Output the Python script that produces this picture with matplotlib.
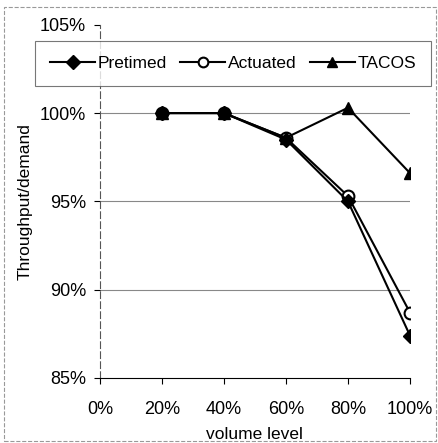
import matplotlib
matplotlib.use("Agg")
from matplotlib import pyplot as plt
from matplotlib.patches import Rectangle

plt.rcParams['font.family'] = ['Liberation Sans', 'DejaVu Sans']

volume = [20, 40, 60, 80, 100]
pretimed = [100.0, 100.0, 98.5, 95.0, 87.4]
actuated = [100.0, 100.0, 98.6, 95.3, 88.7]
tacos = [100.0, 100.0, 98.6, 100.3, 96.6]
xticks = [0, 20, 40, 60, 80, 100]
yticks = [85, 90, 95, 100, 105]

fig = plt.figure(figsize=(4.38, 4.43), dpi=100)
ax = fig.add_axes([0.228, 0.147, 0.708, 0.797])

for y in [90, 95, 100]:
    ax.axhline(y, color='#888888', lw=0.8, zorder=1)

l1, = ax.plot(volume, pretimed, color='black', lw=1.5, marker='D', ms=7,
              mfc='black', mec='black', label='Pretimed', zorder=3)
l2, = ax.plot(volume, actuated, color='black', lw=1.5, marker='o', ms=8.5,
              mfc='white', mec='black', mew=1.5, label='Actuated', zorder=2)
l3, = ax.plot(volume, tacos, color='black', lw=1.5, marker='^', ms=9,
              mfc='black', mec='black', label='TACOS', zorder=4)

ax.set_xlim(0, 100)
ax.set_ylim(85, 105)
ax.set_xticks(xticks)
ax.set_xticklabels([f"{t}%" for t in xticks], fontsize=13)
ax.set_yticks(yticks)
ax.set_yticklabels([f"{t}%" for t in yticks], fontsize=13)
ax.tick_params(axis='both', direction='out', length=4, width=0.8)
ax.tick_params(axis='x', pad=13)
ax.tick_params(axis='y', pad=6)
ax.spines['top'].set_visible(False)
ax.spines['right'].set_visible(False)
ax.spines['left'].set_linestyle((0, (6, 3)))
ax.spines['left'].set_linewidth(0.8)
ax.spines['left'].set_color('#555555')
ax.spines['bottom'].set_linewidth(0.8)
ax.set_xlabel("volume level", fontsize=12.5, labelpad=6)
ax.set_ylabel("Throughput/demand", fontsize=12.5, labelpad=5)

leg = fig.legend(handles=[l1, l2, l3], loc='center', ncol=3,
                 bbox_to_anchor=(0.532, 0.856), fontsize=12.5, frameon=True,
                 fancybox=False, edgecolor='#555555', handlelength=2.6,
                 columnspacing=0.75, handletextpad=0.15, borderpad=0.85,
                 borderaxespad=0)
leg.get_frame().set_linewidth(0.8)
for h in leg.legend_handles:
    h.set_markersize(7)

fig.patches.append(Rectangle((0.01, 0.005), 0.985, 0.98, transform=fig.transFigure,
                             fill=False, edgecolor='#999999', lw=0.8, ls='--'))

plt.savefig("out.png", dpi=100)
